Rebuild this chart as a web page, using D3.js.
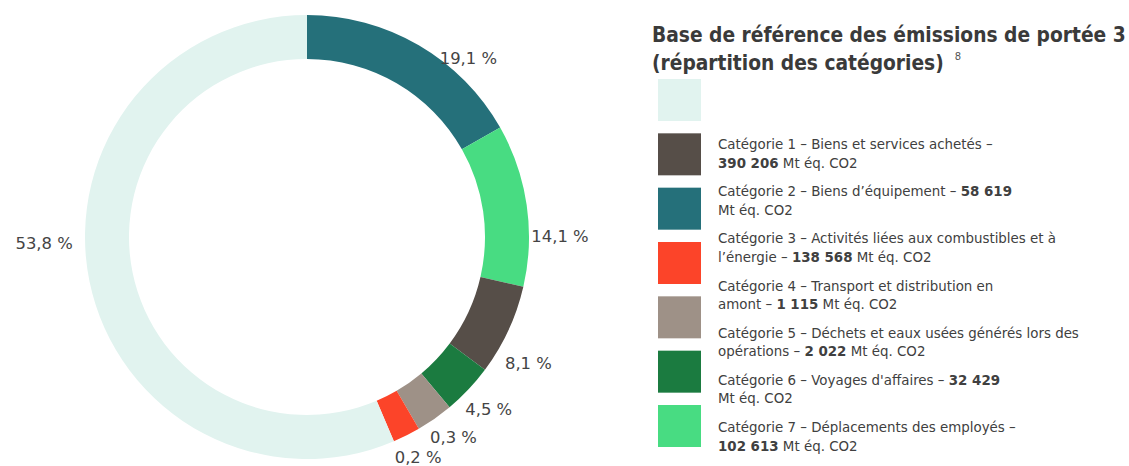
<!DOCTYPE html>
<html>
<head>
<meta charset="utf-8">
<script src="https://cdn.jsdelivr.net/npm/d3@7"></script>
<style>
  body { margin: 0; background: #fff; }
  svg text { font-family: "DejaVu Sans", Verdana, sans-serif; }
</style>
</head>
<body>
<div id="chart"></div>
<script>
// slices as drawn, clockwise from 12 o'clock
var sliceNames = ["Catégorie 2", "Catégorie 7", "Catégorie 1", "Catégorie 6", "Catégorie 4", "Catégorie 3", "Base"];
var sliceShares = [16.8, 11.8, 6.6, 3.7, 2.7, 2.0, 56.4];
var sliceLabels = ["19,1 %", "14,1 %", "8,1 %", "4,5 %", "0,3 %", "0,2 %", "53,8 %"];

// legend swatches (top to bottom)
var swatchKeys = ["Base", "Catégorie 1", "Catégorie 2", "Catégorie 3", "Catégorie 4", "Catégorie 6", "Catégorie 7"];

// legend texts, {v} marks where the bold value goes
var legendValues = ["390 206", "58 619", "138 568", "1 115", "2 022", "32 429", "102 613"];
var legendLines = [
    ["Catégorie 1 – Biens et services achetés –", "{v} Mt éq. CO2"],
    ["Catégorie 2 – Biens d’équipement – {v}", "Mt éq. CO2"],
    ["Catégorie 3 – Activités liées aux combustibles et à", "l’énergie – {v} Mt éq. CO2"],
    ["Catégorie 4 – Transport et distribution en", "amont – {v} Mt éq. CO2"],
    ["Catégorie 5 – Déchets et eaux usées générés lors des", "opérations – {v} Mt éq. CO2"],
    ["Catégorie 6 – Voyages d'affaires – {v}", "Mt éq. CO2"],
    ["Catégorie 7 – Déplacements des employés –", "{v} Mt éq. CO2"]
];

var colors = {
    "Base": "#e1f3ef",
    "Catégorie 1": "#564e48",
    "Catégorie 2": "#25707a",
    "Catégorie 3": "#fc4429",
    "Catégorie 4": "#9e9187",
    "Catégorie 6": "#1b7b40",
    "Catégorie 7": "#48dc82"
};

var width = 1129, height = 466;
var svg = d3.select("#chart").append("svg")
    .attr("width", width)
    .attr("height", height);

// donut
var cx = 307, cy = 237, outerR = 222, innerR = 178;
var pie = d3.pie().sort(null).value(function (d) { return d.value; });
var arcs = pie(sliceNames.map(function (n, i) { return { name: n, value: sliceShares[i], label: sliceLabels[i] }; }));
var arc = d3.arc().innerRadius(innerR).outerRadius(outerR);

var g = svg.append("g").attr("transform", "translate(" + cx + "," + cy + ")");
g.selectAll("path")
    .data(arcs)
    .enter().append("path")
    .attr("d", arc)
    .attr("fill", function (d) { return colors[d.data.name]; });

// label placement: angle nudge (deg) and radius per label
var labelNudge = [11.8, 8, 4.9, 0, -1.1, -0.1, 10.1];
var labelRadius = [241, 253, 255, 250, 248, 247, 263];
function labelAngle(d, i) {
    return (d.startAngle + d.endAngle) / 2 + labelNudge[i] * Math.PI / 180;
}
g.selectAll("text.pct")
    .data(arcs)
    .enter().append("text")
    .attr("class", "pct")
    .attr("x", function (d, i) { return Math.sin(labelAngle(d, i)) * labelRadius[i]; })
    .attr("y", function (d, i) { return -Math.cos(labelAngle(d, i)) * labelRadius[i]; })
    .attr("dy", "0.36em")
    .attr("text-anchor", "middle")
    .style("font-size", "16.4px")
    .style("fill", "#444")
    .text(function (d) { return d.data.label; });

// title: fitted to the reference width, then stretched to its letter height
var titleLines = ["Base de référence des émissions de portée 3", "(répartition des catégories)"];
var titleG = svg.append("g");
var titleTexts = titleLines.map(function (s, i) {
    return titleG.append("text")
        .attr("transform", "translate(652," + (42 + i * 28) + ")")
        .style("font-family", "'DejaVu Sans Condensed', 'DejaVu Sans', sans-serif")
        .style("font-size", "20px")
        .style("font-weight", "bold")
        .style("fill", "#3a3a3a")
        .text(s);
});
var titleSize = 20 * 474 / titleTexts[0].node().getComputedTextLength();
var stretch = 22 / titleSize;
titleTexts.forEach(function (t, i) {
    t.style("font-size", titleSize + "px")
        .attr("transform", "translate(652," + (42 + i * 28) + ") scale(1," + stretch + ")");
});
svg.append("text")
    .attr("x", 652 + titleTexts[1].node().getComputedTextLength() + 11)
    .attr("y", 60)
    .style("font-size", "10px")
    .style("fill", "#555")
    .text("8");

// legend swatches
var swY = d3.scaleLinear().domain([0, 6]).range([79, 405]);
var legend = svg.append("g");
legend.selectAll("rect")
    .data(swatchKeys)
    .enter().append("rect")
    .attr("x", 658)
    .attr("y", function (d, i) { return swY(i); })
    .attr("width", 43)
    .attr("height", 42)
    .attr("fill", function (d) { return colors[d]; });

// legend texts
var txY = d3.scaleLinear().domain([0, 6]).range([149, 432]);
legendLines.forEach(function (lines, i) {
    lines.forEach(function (line, j) {
        var t = legend.append("text")
            .attr("x", 718)
            .attr("y", txY(i) + j * 18.5)
            .style("font-size", "13.4px")
            .style("fill", "#404040");
        var parts = line.split("{v}");
        if (parts[0]) t.append("tspan").text(parts[0]);
        if (parts.length > 1) {
            t.append("tspan").style("font-weight", "bold").text(legendValues[i]);
            t.append("tspan").style("font-weight", "normal").text(parts[1]);
        }
    });
});
</script>
</body>
</html>
